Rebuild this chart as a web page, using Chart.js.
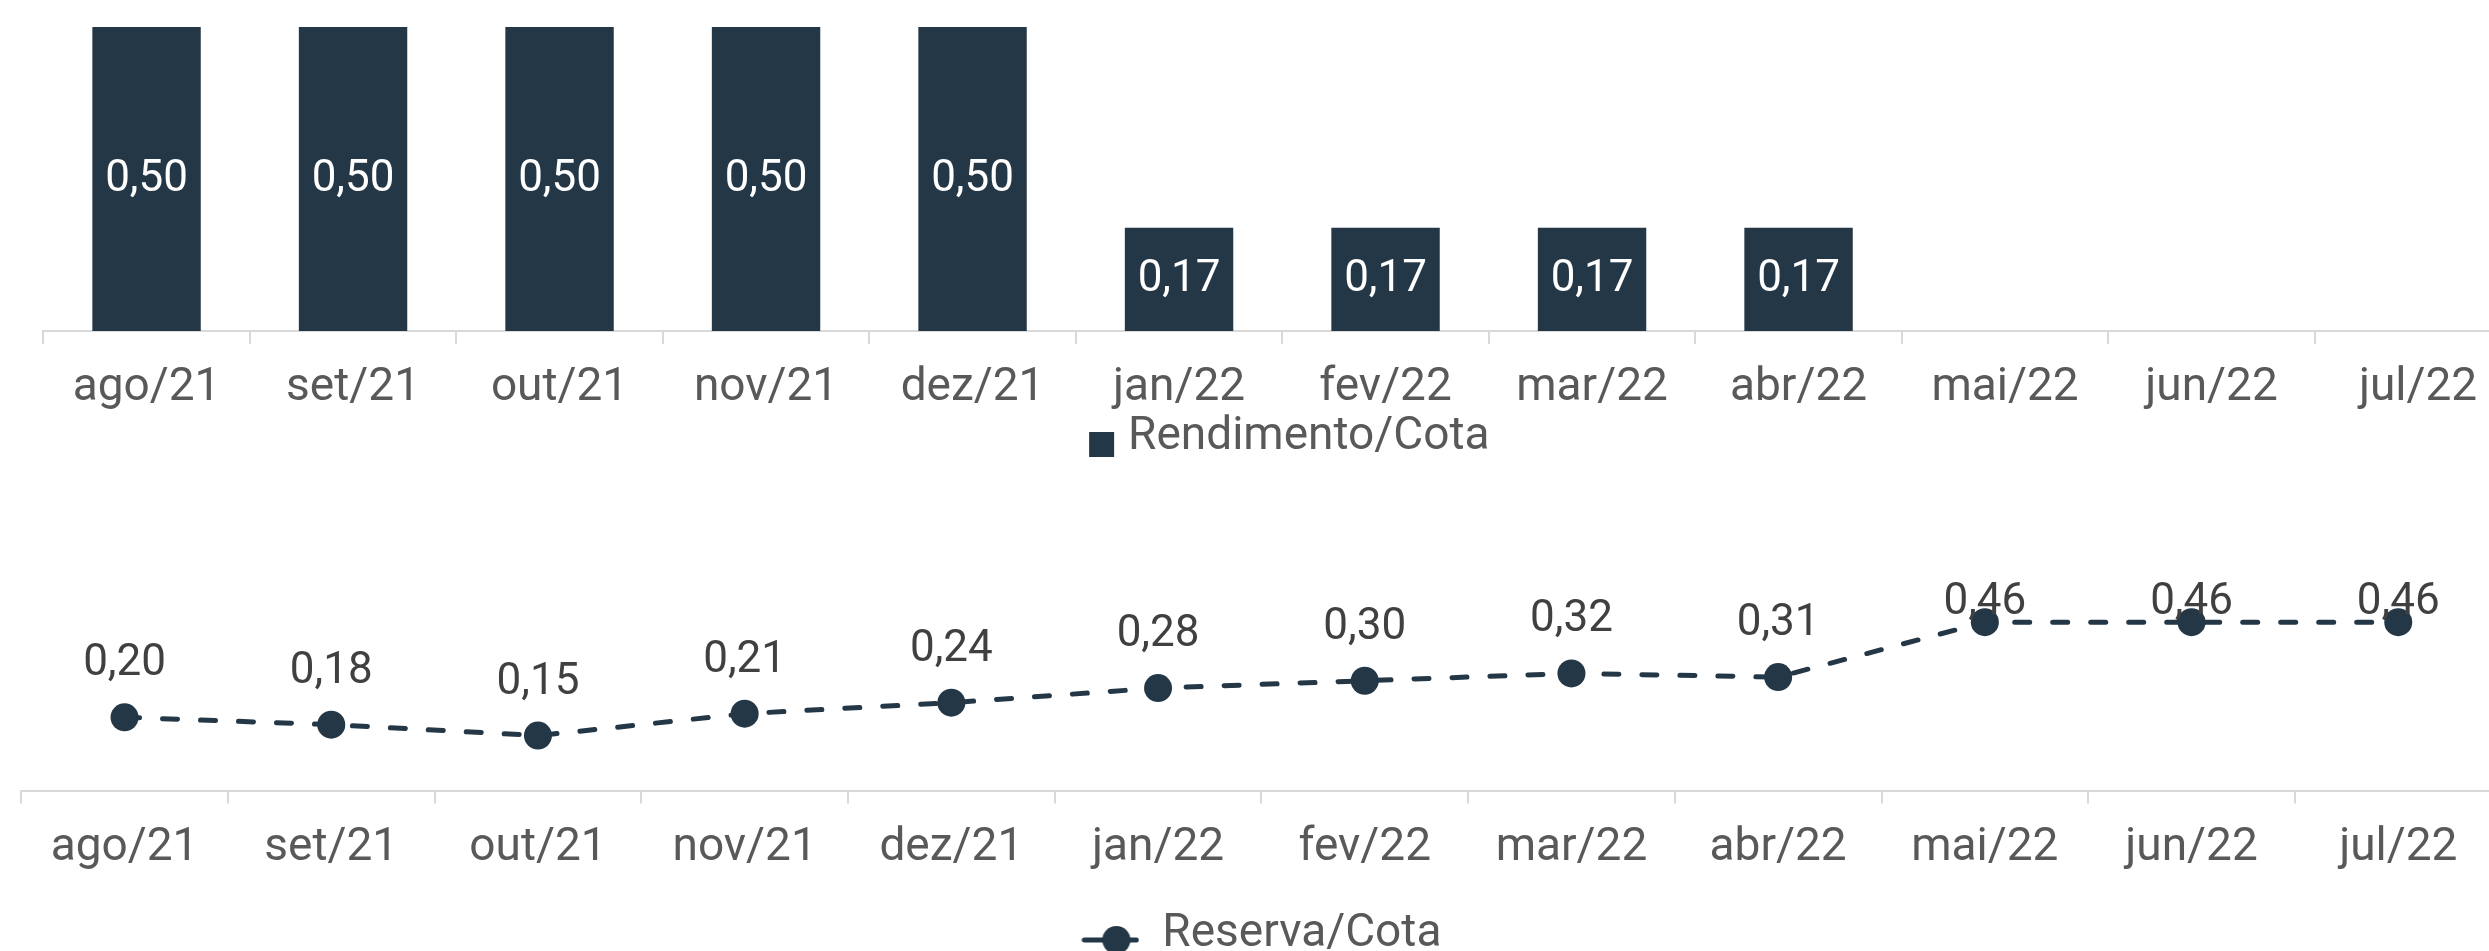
<!DOCTYPE html>
<html>
<head>
<meta charset="utf-8">
<script src="https://cdn.jsdelivr.net/npm/chart.js@4.4.1/dist/chart.umd.min.js"></script>
<style>
html, body { margin: 0; padding: 0; background: #ffffff; overflow: hidden; width: 2489px; height: 951px; }
#top { position: absolute; left: 0; top: 0; width: 2560px; height: 470px; }
#bot { position: absolute; left: 0; top: 470px; width: 2560px; height: 497px; }
</style>
</head>
<body>
<div id="top"><canvas id="c1"></canvas></div>
<div id="bot"><canvas id="c2"></canvas></div>
<script>
// ---- data ----
const categories = ['ago/21','set/21','out/21','nov/21','dez/21','jan/22','fev/22','mar/22','abr/22','mai/22','jun/22','jul/22'];
const rendimentoCota = [0.50, 0.50, 0.50, 0.50, 0.50, 0.17, 0.17, 0.17, 0.17, null, null, null];
const reservaCota = [0.20, 0.18, 0.15, 0.21, 0.24, 0.28, 0.30, 0.32, 0.31, 0.46, 0.46, 0.46];
const seriesNames = ['Rendimento/Cota', 'Reserva/Cota'];

// ---- style ----
const DARK = '#243746';
const AXIS = '#d9d9d9';
const TEXT = '#595959';
const FONT = 'Roboto, "Open Sans", sans-serif';
Chart.defaults.font.family = FONT;

const fmt = v => v.toFixed(2).replace('.', ',');

const valueLabels = {
  id: 'valueLabels',
  afterDatasetsDraw(chart, args, opts) {
    const ctx = chart.ctx;
    const area = chart.chartArea;
    chart.data.datasets.forEach((ds, di) => {
      const meta = chart.getDatasetMeta(di);
      meta.data.forEach((el, i) => {
        const v = ds.data[i];
        if (v === null || v === undefined) return;
        ctx.save();
        ctx.font = opts.size + 'px ' + FONT;
        ctx.fillStyle = opts.color;
        ctx.textAlign = 'center';
        if (opts.mode === 'inside') {
          ctx.textBaseline = 'middle';
          ctx.fillText(fmt(v), el.x, (el.y + el.base) / 2 + opts.shift);
        } else {
          ctx.textBaseline = 'alphabetic';
          const y = Math.max(el.y - opts.offset, area.top + opts.capTop);
          ctx.fillText(fmt(v), el.x, y);
        }
        ctx.restore();
      });
    });
  }
};

function squareIcon() {
  const c = document.createElement('canvas');
  c.width = 50; c.height = 40;
  const x = c.getContext('2d');
  x.fillStyle = DARK;
  x.fillRect(24, 15, 25, 25);
  return c;
}
function lineIcon() {
  const c = document.createElement('canvas');
  c.width = 58; c.height = 40;
  const x = c.getContext('2d');
  x.strokeStyle = DARK;
  x.lineWidth = 5;
  x.lineCap = 'round';
  x.beginPath(); x.moveTo(3, 26); x.lineTo(55, 26); x.stroke();
  x.fillStyle = DARK;
  x.beginPath(); x.arc(35, 26, 14, 0, Math.PI * 2); x.fill();
  return c;
}
const sqIcon = squareIcon();
const lnIcon = lineIcon();

function legendWith(icon, bw) {
  return {
    display: true,
    position: 'bottom',
    labels: {
      color: TEXT,
      font: { size: 46 },
      padding: 0,
      usePointStyle: true,
      pointStyleWidth: bw,
      generateLabels(chart) {
        const items = Chart.defaults.plugins.legend.labels.generateLabels(chart);
        items.forEach(it => { it.pointStyle = icon; });
        return items;
      }
    }
  };
}

function xAxis(h) {
  return {
    offset: true,
    grid: { offset: true, drawOnChartArea: false, drawTicks: true, tickLength: 13, color: AXIS, lineWidth: 2 },
    border: { display: true, color: AXIS, width: 2 },
    ticks: { color: TEXT, font: { size: 46, lineHeight: 1 }, padding: 21.5, maxRotation: 0, autoSkip: false },
    afterFit(s) { s.height = h; }
  };
}

// ---- top chart: Rendimento/Cota ----
new Chart(document.getElementById('c1'), {
  type: 'bar',
  data: {
    labels: categories,
    datasets: [{
      label: seriesNames[0],
      data: rendimentoCota,
      backgroundColor: DARK,
      borderWidth: 0,
      barPercentage: 0.525,
      categoryPercentage: 1
    }]
  },
  options: {
    responsive: true,
    maintainAspectRatio: false,
    animation: false,
    events: [],
    layout: { autoPadding: false, padding: { left: 43.3, right: 2560 - 2521.3, top: 27, bottom: 0 } },
    scales: {
      x: xAxis(83),
      y: { display: false, min: 0, max: 0.5 }
    },
    plugins: {
      legend: legendWith(sqIcon, 30),
      tooltip: { enabled: false },
      valueLabels: { mode: 'inside', size: 44, color: '#ffffff', shift: 1 }
    }
  },
  plugins: [valueLabels]
});

// ---- bottom chart: Reserva/Cota ----
new Chart(document.getElementById('c2'), {
  type: 'line',
  data: {
    labels: categories,
    datasets: [{
      label: seriesNames[1],
      data: reservaCota,
      borderColor: DARK,
      backgroundColor: DARK,
      borderWidth: 5,
      borderDash: [15, 23],
      borderCapStyle: 'round',
      tension: 0,
      fill: false,
      pointRadius: 14,
      pointHoverRadius: 14,
      pointBackgroundColor: DARK,
      pointBorderWidth: 0,
      clip: false
    }]
  },
  options: {
    responsive: true,
    maintainAspectRatio: false,
    animation: false,
    events: [],
    layout: { autoPadding: false, padding: { left: 21.2, right: 2560 - 2501.6, top: 111, bottom: 0 } },
    scales: {
      x: xAxis(120.5),
      y: { display: false, min: 0, max: 0.5726 }
    },
    plugins: {
      legend: legendWith(lnIcon, 58),
      tooltip: { enabled: false },
      valueLabels: { mode: 'above', size: 44, color: '#404040', offset: 42, capTop: 33 }
    }
  },
  plugins: [valueLabels]
});
</script>
</body>
</html>
